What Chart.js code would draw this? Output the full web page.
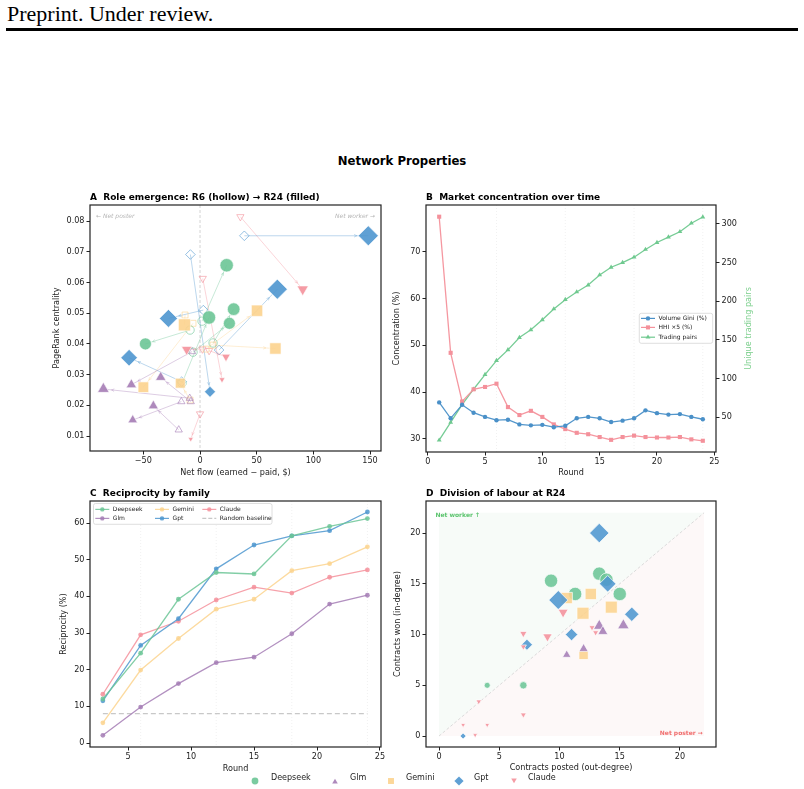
<!DOCTYPE html>
<html>
<head>
<meta charset="utf-8">
<script src="https://cdn.jsdelivr.net/npm/chart.js@4.4.1/dist/chart.umd.min.js"></script>
<style>
  body { margin: 0; background: #fff; }
  #page { position: relative; width: 804px; height: 789px; overflow: hidden; font-family: "DejaVu Sans", sans-serif; }
  #page canvas { position: absolute; left: 0; top: 0; }
  #hdr { position: absolute; left: 7px; top: 3px; font: 22px/22px "Liberation Serif", serif; color: #000; }
  #rule { position: absolute; left: 6px; top: 28px; width: 792px; height: 3px; background: #000; }
  #suptitle { position: absolute; left: 0; top: 154px; width: 804px; text-align: center; font-weight: bold; font-size: 11.7px; line-height: 14px; }
  .lg { position: absolute; top: 773px; font-size: 8px; line-height: 10px; color: #222; }
  .mk { position: absolute; }
</style>
</head>
<body>
<div id="page">
  <div id="hdr">Preprint. Under review.</div>
  <div id="rule"></div>
  <div id="suptitle">Network Properties</div>
  <canvas id="panelA" width="804" height="789"></canvas>
  <canvas id="panelB" width="804" height="789"></canvas>
  <canvas id="panelC" width="804" height="789"></canvas>
  <canvas id="panelD" width="804" height="789"></canvas>
  <div id="figLegend"></div>
</div>
<script>
// ---------- families ----------
const families = ['Deepseek', 'Glm', 'Gemini', 'Gpt', 'Claude'];
const familyColors = ['#6cc596', '#a57cb5', '#fcd38e', '#4e96cf', '#f4919b'];
const familyShapes = ['circle', 'triangle', 'rect', 'rectRot', 'triangle'];
const familyRotation = [0, 0, 0, 0, 180];

// ---------- A: role emergence, [net flow $, PageRank] at R6 and R24 ----------
const deepseekR6 = [[1.8, 0.0474], [11.5, 0.0403], [-6.2, 0.0373], [-8.8, 0.0445], [-15.9, 0.0272]];
const deepseekR24 = [[23.5, 0.0656], [29.7, 0.0513], [25.9, 0.0467], [-48.2, 0.0400], [7.9, 0.0486]];
const glmR6 = [[-7.0, 0.0375], [-9.1, 0.0223], [-8.2, 0.0212], [-16.5, 0.0212], [-18.8, 0.0120]];
const glmR24 = [[-60.6, 0.0267], [-85.3, 0.0253], [-34.7, 0.0291], [-59.4, 0.0152], [-41.2, 0.0198]];
const geminiR6 = [[-13.2, 0.0494], [-6.2, 0.0467], [11.5, 0.0396], [5.3, 0.0383], [-8.8, 0.0217]];
const geminiR24 = [[-13.8, 0.0462], [-50.0, 0.0259], [66.5, 0.0385], [50.3, 0.0508], [-17.4, 0.0272]];
const gptR6 = [[39.1, 0.0752], [-8.5, 0.0691], [2.9, 0.0510], [16.8, 0.0380], [-16.2, 0.0277]];
const gptR24 = [[148.5, 0.0752], [8.8, 0.0244], [-27.9, 0.0483], [68.2, 0.0578], [-62.6, 0.0355]];
const claudeR6 = [[35.6, 0.0814], [2.4, 0.0613], [2.1, 0.0383], [8.0, 0.0378], [0.0, 0.0172]];
const claudeR24 = [[90.6, 0.0578], [19.4, 0.0284], [-11.8, 0.0382], [22.9, 0.0358], [-8.2, 0.0090]];
// marker radius at R24 (activity)
const deepseekR24Size = [6.7, 6.3, 6.0, 6.0, 6.7];
const glmR24Size = [6.0, 6.7, 6.0, 5.5, 5.8];
const geminiR24Size = [8.5, 7.5, 8.0, 8.0, 7.0];
const gptR24Size = [10.0, 5.5, 9.0, 10.0, 8.3];
const claudeR24Size = [6.5, 3.5, 6.0, 5.0, 3.0];
const ticksAX = [-50, 0, 50, 100, 150];
const ticksAY = [0.01, 0.02, 0.03, 0.04, 0.05, 0.06, 0.07, 0.08];

// ---------- B: market concentration ----------
const rounds = [1, 2, 3, 4, 5, 6, 7, 8, 9, 10, 11, 12, 13, 14, 15, 16, 17, 18, 19, 20, 21, 22, 23, 24];
const volumeGini = [37.8, 34.4, 37.3, 35.6, 34.7, 34.0, 34.1, 33.1, 32.9, 33.0, 32.5, 32.8, 34.4, 34.7, 34.4, 33.6, 33.9, 34.4, 36.1, 35.5, 35.2, 35.3, 34.7, 34.2];
const hhiX5 = [77.5, 48.4, 38.0, 40.6, 41.1, 41.8, 36.8, 35.1, 36.0, 34.7, 33.1, 32.1, 31.3, 31.0, 30.4, 29.8, 30.4, 30.7, 30.4, 30.3, 30.3, 30.4, 29.9, 29.6];
const tradingPairs = [20, 43, 66, 86, 105, 123, 137, 153, 163, 176, 190, 202, 212, 221, 234, 244, 250, 257, 267, 276, 283, 290, 301, 309];
const seriesLabelsB = ['Volume Gini (%)', 'HHI \u00d75 (%)', 'Trading pairs'];
const ticksBX = [0, 5, 10, 15, 20, 25];
const ticksBY = [30, 40, 50, 60, 70];
const ticksBY2 = [50, 100, 150, 200, 250, 300];

// ---------- C: reciprocity by family ----------
const reciprocityRounds = [3, 6, 9, 12, 15, 18, 21, 24];
const reciprocityDeepseek = [12.0, 24.5, 39.2, 46.5, 46.1, 56.5, 59.1, 61.2];
const reciprocityGlm = [2.1, 9.8, 16.2, 21.9, 23.4, 29.8, 37.9, 40.3];
const reciprocityGemini = [5.5, 19.9, 28.5, 36.5, 39.2, 47.0, 48.9, 53.5];
const reciprocityGpt = [11.5, 26.6, 33.9, 47.5, 54.0, 56.5, 57.9, 63.0];
const reciprocityClaude = [13.3, 29.5, 33.2, 39.0, 42.5, 40.9, 45.2, 47.2];
const randomBaseline = 8.0;
const ticksCX = [5, 10, 15, 20, 25];
const ticksCY = [0, 10, 20, 30, 40, 50, 60];

// ---------- D: division of labour at R24, [out-degree, in-degree] ----------
const deepseekDeg = [[9.3, 15.3], [11.3, 14.0], [13.3, 16.0], [13.9, 15.4], [15.0, 14.0], [4.0, 5.0], [7.0, 5.0]];
const glmDeg = [[13.3, 10.85], [13.6, 10.3], [15.3, 10.9], [12.0, 8.6], [10.6, 8.0]];
const geminiDeg = [[10.6, 13.6], [12.6, 14.0], [11.95, 12.1], [14.3, 12.7], [12.0, 8.0]];
const gptDeg = [[13.3, 20.0], [14.0, 15.0], [9.9, 13.4], [16.0, 12.0], [11.0, 10.0], [7.3, 9.0], [2.0, 0.0]];
const claudeDeg = [[10.3, 12.2], [9.0, 9.8], [7.0, 10.1], [7.0, 8.8], [12.7, 10.7], [13.0, 10.2], [3.3, 3.4], [7.0, 2.1], [2.0, 1.1], [4.0, 1.1], [3.0, 0.1]];
const deepseekDegSize = [6.7, 6.7, 6.7, 6.7, 6.7, 3.0, 3.7];
const glmDegSize = [6.7, 5.8, 6.7, 5.3, 4.9];
const geminiDegSize = [8.0, 8.0, 8.5, 8.5, 6.6];
const gptDegSize = [9.7, 8.3, 9.5, 7.2, 6.2, 5.5, 3.0];
const claudeDegSize = [5.8, 5.4, 4.2, 3.5, 3.5, 3.5, 3.2, 3.4, 2.8, 2.8, 2.8];
const ticksD = [0, 5, 10, 15, 20];

// ---------- helpers ----------
Chart.defaults.font.family = '"DejaVu Sans", sans-serif';
Chart.defaults.color = '#222';

const rgba = (hex, a) => {
  const n = parseInt(hex.slice(1), 16);
  return 'rgba(' + (n >> 16) + ',' + ((n >> 8) & 255) + ',' + (n & 255) + ',' + a + ')';
};
const minus = v => String(v).replace('-', '\u2212');
const toXY = pts => pts.map(p => ({ x: p[0], y: p[1] }));

function axis(o) {
  return {
    type: 'linear', position: o.position, min: o.min, max: o.max,
    afterBuildTicks: s => { s.ticks = o.ticks.map(v => ({ value: v })); },
    afterFit: s => { if (o.position === 'bottom') s.height = o.size; else s.width = o.size; },
    grid: { drawOnChartArea: false, drawTicks: true, tickLength: 3.5, tickColor: '#222', tickWidth: 1 },
    border: { display: false },
    ticks: { color: '#222', font: { size: 8.1 }, padding: 2, maxRotation: 0, autoSkip: false, callback: o.format || minus },
    title: { display: !!o.title, text: o.title || '', color: '#222', font: { size: 8.1 }, padding: { top: o.titlePad || 0, bottom: o.titlePad || 0 } }
  };
}

function options(padding, scales) {
  return {
    responsive: false, animation: false, events: [],
    layout: { padding: padding },
    plugins: { legend: { display: false }, tooltip: { enabled: false } },
    scales: scales
  };
}

const frame = {
  id: 'frame',
  afterDraw(chart) {
    const { ctx, chartArea: a } = chart;
    ctx.save();
    ctx.strokeStyle = '#222';
    ctx.lineWidth = 1.2;
    ctx.strokeRect(a.left, a.top, a.right - a.left, a.bottom - a.top);
    ctx.restore();
  }
};

function panelTitle(text) {
  return {
    id: 'panelTitle',
    afterDraw(chart) {
      const { ctx, chartArea: a } = chart;
      ctx.save();
      ctx.font = 'bold 9px "DejaVu Sans"';
      ctx.fillStyle = '#000';
      ctx.fillText(text, a.left, a.top - 4.7);
      ctx.restore();
    }
  };
}

function roundGuides(values) {
  return {
    id: 'roundGuides',
    beforeDatasetsDraw(chart) {
      const { ctx, chartArea: a, scales } = chart;
      ctx.save();
      ctx.strokeStyle = 'rgba(0,0,0,0.1)';
      ctx.lineWidth = 0.6;
      ctx.setLineDash([1, 2]);
      values.forEach(v => {
        const px = scales.x.getPixelForValue(v);
        ctx.beginPath(); ctx.moveTo(px, a.top); ctx.lineTo(px, a.bottom); ctx.stroke();
      });
      ctx.restore();
    }
  };
}

function marker(ctx, style, rotation, r, x, y, color) {
  ctx.fillStyle = color;
  Chart.helpers.drawPoint(ctx, { pointStyle: style, rotation: rotation, radius: r, borderWidth: 0 }, x, y);
}

// inset legend: box + items {x, y, label, color, style, rotation, r, dash}
function insetLegend(box, items) {
  return {
    id: 'insetLegend',
    afterDatasetsDraw(chart) {
      const ctx = chart.ctx;
      ctx.save();
      ctx.beginPath();
      ctx.roundRect(box.x, box.y, box.w, box.h, 2);
      ctx.fillStyle = 'rgba(255,255,255,0.85)';
      ctx.fill();
      ctx.strokeStyle = '#d6d6d6';
      ctx.lineWidth = 0.8;
      ctx.stroke();
      ctx.font = '6px "DejaVu Sans"';
      ctx.textBaseline = 'middle';
      items.forEach(it => {
        ctx.strokeStyle = it.color;
        ctx.lineWidth = 1.2;
        ctx.setLineDash(it.dash || []);
        ctx.beginPath(); ctx.moveTo(it.x, it.y); ctx.lineTo(it.x + 14, it.y); ctx.stroke();
        ctx.setLineDash([]);
        if (it.style) marker(ctx, it.style, it.rotation || 0, it.r, it.x + 7, it.y, it.color);
        ctx.fillStyle = '#222';
        ctx.fillText(it.label, it.x + 17.5, it.y + 0.5);
      });
      ctx.restore();
    }
  };
}

// ---------- A ----------
const roleR6 = [deepseekR6, glmR6, geminiR6, gptR6, claudeR6];
const roleR24 = [deepseekR24, glmR24, geminiR24, gptR24, claudeR24];
const roleR24Size = [deepseekR24Size, glmR24Size, geminiR24Size, gptR24Size, claudeR24Size];

const dsA = [];
families.forEach((name, f) => {
  const c = familyColors[f];
  const seg = [];
  roleR6[f].forEach((p, i) => {
    const q = roleR24[f][i];
    seg.push({ x: p[0], y: p[1] }, { x: q[0], y: q[1] }, { x: q[0], y: null });
  });
  dsA.push({ type: 'line', data: seg, borderColor: rgba(c, 0.38), borderWidth: 1, pointRadius: 0, spanGaps: false, order: 3 });
  dsA.push({
    data: toXY(roleR6[f]), pointStyle: familyShapes[f], pointRotation: familyRotation[f],
    pointRadius: f === 3 ? 4.8 : 4.2, pointBackgroundColor: 'rgba(0,0,0,0)',
    pointBorderColor: rgba(c, 0.6), pointBorderWidth: 1, order: 2
  });
  dsA.push({
    data: toXY(roleR24[f]), pointStyle: familyShapes[f], pointRotation: familyRotation[f],
    pointRadius: roleR24Size[f], pointBackgroundColor: rgba(c, 0.9),
    pointBorderColor: '#fff', pointBorderWidth: 0.6, order: 1
  });
});

const roleGuides = {
  id: 'roleGuides',
  beforeDatasetsDraw(chart) {
    const { ctx, chartArea: a, scales } = chart;
    const px = scales.x.getPixelForValue(0);
    ctx.save();
    ctx.strokeStyle = '#c8c8c8';
    ctx.lineWidth = 0.8;
    ctx.setLineDash([3, 2]);
    ctx.beginPath(); ctx.moveTo(px, a.top); ctx.lineTo(px, a.bottom); ctx.stroke();
    ctx.restore();
  },
  afterDatasetsDraw(chart) {
    const { ctx, chartArea: a, scales } = chart;
    ctx.save();
    // small arrow heads at the R24 end of each move
    families.forEach((name, f) => {
      ctx.strokeStyle = rgba(familyColors[f], 0.45);
      ctx.lineWidth = 0.8;
      roleR6[f].forEach((p, i) => {
        const q = roleR24[f][i];
        const x0 = scales.x.getPixelForValue(p[0]), y0 = scales.y.getPixelForValue(p[1]);
        const x1 = scales.x.getPixelForValue(q[0]), y1 = scales.y.getPixelForValue(q[1]);
        const len = Math.hypot(x1 - x0, y1 - y0);
        if (len < 12) return;
        const ux = (x1 - x0) / len, uy = (y1 - y0) / len;
        const tx = x1 - ux * (roleR24Size[f][i] + 1.5), ty = y1 - uy * (roleR24Size[f][i] + 1.5);
        [0.45, -0.45].forEach(t => {
          const cs = Math.cos(t), sn = Math.sin(t);
          const bx = -(ux * cs - uy * sn) * 3, by = -(ux * sn + uy * cs) * 3;
          ctx.beginPath(); ctx.moveTo(tx, ty); ctx.lineTo(tx + bx, ty + by); ctx.stroke();
        });
      });
    });
    ctx.font = 'italic 6px "DejaVu Sans"';
    ctx.fillStyle = '#b4b4b4';
    ctx.textBaseline = 'middle';
    ctx.textAlign = 'left';
    ctx.fillText('\u2190 Net poster', a.left + 6, a.top + 11);
    ctx.textAlign = 'right';
    ctx.fillText('Net worker \u2192', a.right - 6, a.top + 11);
    ctx.restore();
  }
};

new Chart(document.getElementById('panelA'), {
  type: 'scatter',
  data: { datasets: dsA },
  options: options({ left: 40, top: 205, right: 423, bottom: 308 }, {
    x: axis({ position: 'bottom', min: -97.1, max: 159.7, ticks: ticksAX, size: 30, title: 'Net flow (earned \u2212 paid, $)', titlePad: 3.2 }),
    y: axis({ position: 'left', min: 0.00512, max: 0.08522, ticks: ticksAY, size: 50, title: 'PageRank centrality', titlePad: 12.2, format: v => v.toFixed(2) })
  }),
  plugins: [roleGuides, frame, panelTitle('A  Role emergence: R6 (hollow) \u2192 R24 (filled)')]
});

// ---------- B ----------
const colorsB = ['#4a90c8', '#f4919b', '#6fc98f'];
const stylesB = [['circle', 2.2], ['rect', 2.9], ['triangle', 2.8]];
const valuesB = [volumeGini, hhiX5, tradingPairs];
const dsB = valuesB.map((vals, k) => ({
  data: rounds.map((r, i) => ({ x: r, y: vals[i] })),
  yAxisID: k === 2 ? 'y2' : 'y',
  showLine: true, borderColor: rgba(colorsB[k], 0.95), borderWidth: 1.3,
  pointStyle: stylesB[k][0], pointRadius: stylesB[k][1],
  pointBackgroundColor: colorsB[k], pointBorderWidth: 0, order: k + 1
}));

const rightTitle = {
  id: 'rightTitle',
  afterDraw(chart) {
    const { ctx, chartArea: a } = chart;
    ctx.save();
    ctx.translate(749, (a.top + a.bottom) / 2);
    ctx.rotate(-Math.PI / 2);
    ctx.font = '8.1px "DejaVu Sans"';
    ctx.fillStyle = '#7fd08f';
    ctx.textAlign = 'center';
    ctx.textBaseline = 'middle';
    ctx.fillText('Unique trading pairs', 0, 0);
    ctx.restore();
  }
};

new Chart(document.getElementById('panelB'), {
  type: 'scatter',
  data: { datasets: dsB },
  options: options({ left: 380, top: 205, right: 44, bottom: 307 }, {
    x: axis({ position: 'bottom', min: -0.15, max: 25.15, ticks: ticksBX, size: 30, title: 'Round', titlePad: 4.2 }),
    y: axis({ position: 'left', min: 27.2, max: 80.0, ticks: ticksBY, size: 46, title: 'Concentration (%)', titlePad: 12.2 }),
    y2: axis({ position: 'right', min: 4.7, max: 324.6, ticks: ticksBY2, size: 44 })
  }),
  plugins: [roundGuides([6, 12, 18, 24]), insetLegend({ x: 639.3, y: 313.3, w: 73.4, h: 30 },
    seriesLabelsB.map((label, k) => ({ x: 641, y: [318.4, 327.4, 337.2][k], label: label, color: colorsB[k], style: stylesB[k][0], r: stylesB[k][1] }))),
    rightTitle, frame, panelTitle('B  Market concentration over time')]
});

// ---------- C ----------
const reciprocity = [reciprocityDeepseek, reciprocityGlm, reciprocityGemini, reciprocityGpt, reciprocityClaude];
const dsC = reciprocity.map((vals, f) => ({
  data: reciprocityRounds.map((r, i) => ({ x: r, y: vals[i] })),
  showLine: true, borderColor: rgba(familyColors[f], 0.85), borderWidth: 1.3,
  pointStyle: 'circle', pointRadius: 2.4, pointBackgroundColor: rgba(familyColors[f], 0.85),
  pointBorderWidth: 0
}));
dsC.push({
  data: [{ x: reciprocityRounds[0], y: randomBaseline }, { x: reciprocityRounds[reciprocityRounds.length - 1], y: randomBaseline }],
  showLine: true, borderColor: '#c8c8c8', borderWidth: 1.2, borderDash: [5, 3], pointRadius: 0, order: 5
});

const legendItemsC = families.map((name, f) => ({
  x: [95.3, 155, 202.3][Math.floor(f / 2)], y: [509.4, 518.4][f % 2],
  label: name, color: rgba(familyColors[f], 0.85), style: 'circle', r: 2.2
}));
legendItemsC.push({ x: 202.3, y: 518.4, label: 'Random baseline', color: '#c8c8c8', dash: [4, 2] });

new Chart(document.getElementById('panelC'), {
  type: 'scatter',
  data: { datasets: dsC },
  options: options({ left: 40, top: 501, right: 423, bottom: 12 }, {
    x: axis({ position: 'bottom', min: 1.98, max: 25.08, ticks: ticksCX, size: 30, title: 'Round', titlePad: 3.2 }),
    y: axis({ position: 'left', min: -1.09, max: 66.0, ticks: ticksCY, size: 50, title: 'Reciprocity (%)', titlePad: 19.2 })
  }),
  plugins: [roundGuides([6, 12, 18, 24]), insetLegend({ x: 93.5, y: 503.5, w: 178.5, h: 20.8 }, legendItemsC), frame, panelTitle('C  Reciprocity by family')]
});

// ---------- D ----------
const degree = [deepseekDeg, glmDeg, geminiDeg, gptDeg, claudeDeg];
const degreeSize = [deepseekDegSize, glmDegSize, geminiDegSize, gptDegSize, claudeDegSize];
const degreeOrder = [5, 3, 4, 2, 1];
const dsD = degree.map((pts, f) => ({
  data: toXY(pts), pointStyle: familyShapes[f], pointRotation: familyRotation[f],
  pointRadius: degreeSize[f], pointBackgroundColor: rgba(familyColors[f], 0.88),
  pointBorderColor: '#fff', pointBorderWidth: 0.7, order: degreeOrder[f]
}));
dsD.push({ data: [{ x: 0, y: 0 }, { x: 22, y: 22 }], showLine: true, borderColor: '#d2d2d2', borderWidth: 0.8, borderDash: [3, 2], pointRadius: 0, order: 9 });

const labourZones = {
  id: 'labourZones',
  beforeDatasetsDraw(chart) {
    const { ctx, scales: { x, y } } = chart;
    const x0 = x.getPixelForValue(0), x1 = x.getPixelForValue(22);
    const y0 = y.getPixelForValue(0), y1 = y.getPixelForValue(22);
    ctx.save();
    ctx.fillStyle = '#f7fbf8';
    ctx.beginPath(); ctx.moveTo(x0, y0); ctx.lineTo(x0, y1); ctx.lineTo(x1, y1); ctx.closePath(); ctx.fill();
    ctx.fillStyle = '#fdf8f8';
    ctx.beginPath(); ctx.moveTo(x0, y0); ctx.lineTo(x1, y0); ctx.lineTo(x1, y1); ctx.closePath(); ctx.fill();
    ctx.restore();
  },
  afterDatasetsDraw(chart) {
    const { ctx, scales: { x, y } } = chart;
    ctx.save();
    ctx.font = 'bold 6px "DejaVu Sans"';
    ctx.textBaseline = 'middle';
    ctx.fillStyle = '#5cc46e';
    ctx.textAlign = 'left';
    ctx.fillText('Net worker \u2191', x.getPixelForValue(-0.3), y.getPixelForValue(21.7));
    ctx.fillStyle = '#f06e6e';
    ctx.textAlign = 'right';
    ctx.fillText('Net poster \u2192', x.getPixelForValue(21.9), y.getPixelForValue(0.3));
    ctx.restore();
  }
};

new Chart(document.getElementById('panelD'), {
  type: 'scatter',
  data: { datasets: dsD },
  options: options({ left: 380, top: 501, right: 88, bottom: 12 }, {
    x: axis({ position: 'bottom', min: -1.08, max: 22.99, ticks: ticksD, size: 30, title: 'Contracts posted (out-degree)', titlePad: 4.2 }),
    y: axis({ position: 'left', min: -1.08, max: 23.16, ticks: ticksD, size: 46, title: 'Contracts won (in-degree)', titlePad: 13.2 })
  }),
  plugins: [labourZones, frame, panelTitle('D  Division of labour at R24')]
});

// ---------- figure legend ----------
function shapeSVG(style, rot, r, color) {
  const c = 6;
  let el;
  if (style === 'circle') {
    el = '<circle cx="6" cy="6" r="' + r + '" fill="' + color + '"/>';
  } else if (style === 'rect') {
    const h = r * Math.SQRT1_2;
    el = '<rect x="' + (c - h) + '" y="' + (c - h) + '" width="' + 2 * h + '" height="' + 2 * h + '" fill="' + color + '"/>';
  } else if (style === 'rectRot') {
    el = '<polygon points="' + (c - r) + ',' + c + ' ' + c + ',' + (c - r) + ' ' + (c + r) + ',' + c + ' ' + c + ',' + (c + r) + '" fill="' + color + '"/>';
  } else {
    const pts = [0, 120, 240].map(a => {
      const t = (a + rot) * Math.PI / 180;
      return (c + Math.sin(t) * r) + ',' + (c - Math.cos(t) * r);
    }).join(' ');
    el = '<polygon points="' + pts + '" fill="' + color + '"/>';
  }
  return '<svg width="12" height="12" xmlns="http://www.w3.org/2000/svg">' + el + '</svg>';
}

const legendHost = document.getElementById('figLegend');
const markX = [255, 335, 391, 459, 514];
const markY = [778, 779, 778, 778, 777];
const markR = [3.4, 3.2, 4.2, 4.6, 3.2];
const textX = [271, 350, 406, 474, 528];
families.forEach((name, f) => {
  const m = document.createElement('div');
  m.className = 'mk';
  m.style.left = (markX[f] - 6) + 'px';
  m.style.top = (markY[f] - 6) + 'px';
  m.innerHTML = shapeSVG(familyShapes[f], familyRotation[f], markR[f], rgba(familyColors[f], 0.9));
  legendHost.appendChild(m);
  const t = document.createElement('div');
  t.className = 'lg';
  t.style.left = textX[f] + 'px';
  t.textContent = name;
  legendHost.appendChild(t);
});
</script>
</body>
</html>
